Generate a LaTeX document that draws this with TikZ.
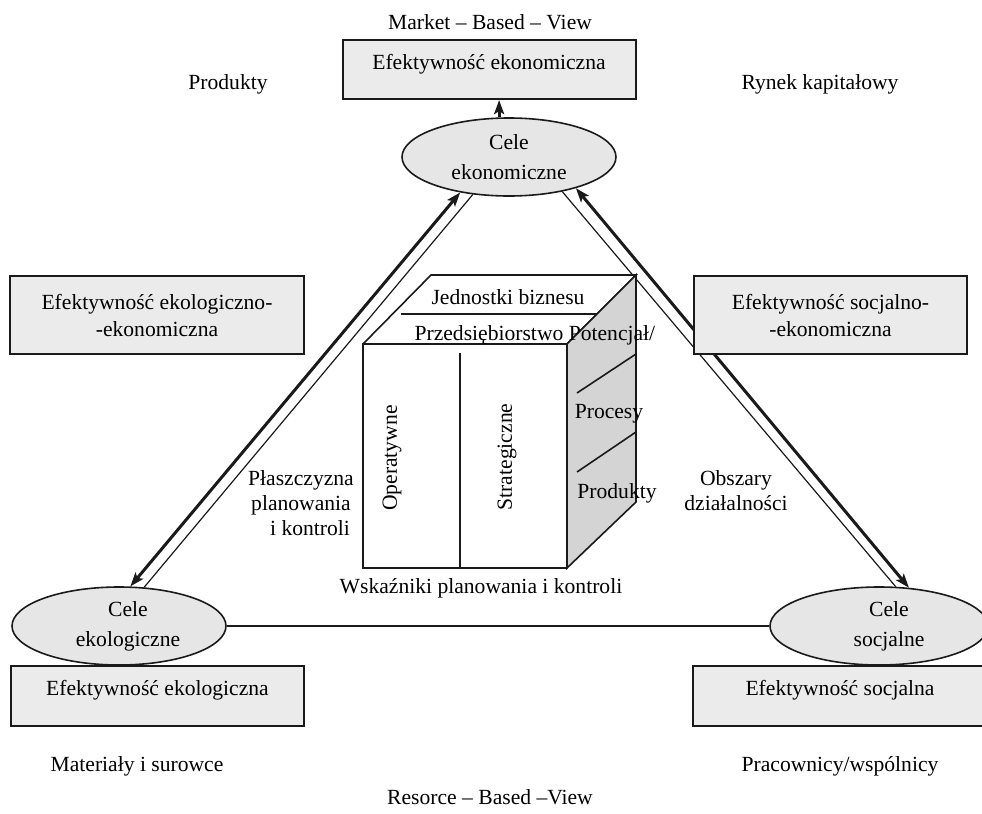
\documentclass[tikz,border=0pt]{standalone}
\usepackage{fontspec}
\setmainfont{Liberation Serif}
\usepackage{xcolor}
\definecolor{cLine}{HTML}{1A1A1A}
\definecolor{cBox}{HTML}{EBEBEB}
\definecolor{cGoal}{HTML}{E6E6E6}
\definecolor{cSide}{HTML}{D4D4D4}
\usetikzlibrary{arrows.meta,shapes.geometric}
\tikzset{
  node-box/.style={draw=cLine,line width=1pt,fill=cBox,inner sep=0pt,
    align=center},
  node-box-top/.style={node-box,text height=14.6pt,text depth=15pt},
  node-goal/.style={draw=cLine,line width=0.8pt,fill=cGoal,ellipse,
    inner sep=0pt,minimum width=107pt,minimum height=39pt,align=center},
  node-text/.style={inner sep=0pt,align=center},
  arrow-up/.style={-{Stealth[length=7pt,width=5pt,inset=1.5pt]},
    line width=1.5pt,draw=cLine},
  arrow-both/.style={{Stealth[length=7pt,width=5pt,inset=1.5pt]}-{Stealth[length=7pt,width=5pt,inset=1.5pt]},
    line width=1.5pt,draw=cLine},
  line-thin/.style={line width=0.6pt,draw=cLine},
  line-cube/.style={line width=0.8pt,draw=cLine},
}
\begin{document}
\begin{tikzpicture}[x=0.5pt,y=-0.5pt,font=\fontsize{10.8}{12.5}\selectfont]
  \useasboundingbox (0,0) rectangle (982,814);
  % cele
  \node[node-goal] (econ) at (509,157) {Cele\\[2.5pt]ekonomiczne};
  \node[node-goal] (ecol) at (119,626) {\hspace*{9pt}Cele\\[2.5pt]\hspace*{9pt}ekologiczne};
  \node[node-goal,minimum width=109pt] (csoc) at (879,626) {\hspace*{10pt}Cele\\[2.5pt]\hspace*{10pt}socjalne};
  % polaczenia
  \draw[arrow-both] (econ.216) -- (ecol.74);
  \draw[line-thin] (econ.226) -- (ecol.57);
  \draw[arrow-both] (econ.335) -- (csoc.52);
  \draw[line-thin] (econ.327) -- (csoc.67);
  \draw[line-thin,line width=0.8pt] (ecol.east) -- (csoc.west);
  % efektywnosc
  \node[node-box-top,minimum width=146.5pt] (effeco) at (489,69.5) {Efektywność ekonomiczna};
  \draw[arrow-up] (econ.104) -- (econ.104 |- effeco.south);
  \node[node-box,minimum width=147pt,minimum height=39pt] (effecolecon) at (157,315)
    {Efektywność ekologiczno-\\[1pt]-ekonomiczna};
  \node[node-box,minimum width=136.5pt,minimum height=39pt] (effsocecon) at (830.5,315)
    {Efektywność socjalno-\\[1pt]-ekonomiczna};
  \node[node-box-top,minimum width=146.5pt] (effecol) at (157.5,696) {Efektywność ekologiczna};
  \node[node-box-top,minimum width=147pt] (effsoc) at (840,696) {Efektywność socjalna};
  % kostka
  \draw[line-cube] (363,344) rectangle (567,568);
  \draw[line-cube] (363,344) -- (431,275) -- (636,275) -- (567,344);
  \draw[line-cube,fill=cSide] (567,344) -- (636,275) -- (636,502) -- (567,568) -- cycle;
  \draw[line-cube] (401,314) -- (597,314);
  \draw[line-cube] (460,353) -- (460,568);
  \draw[line-cube] (577,393) -- (636,354);
  \draw[line-cube] (577,472) -- (636,432);
  \node[node-text] (jedn) at (508,297) {Jednostki biznesu};
  \node[node-text] (przeds) at (489,335) {Przedsiębiorstwo};
  \node[node-text] (poten) at (612,335) {Potencjał/};
  \node[node-text] (proc) at (609,414) {Procesy};
  \node[node-text] (prodc) at (617,493) {Produkty};
  \node[node-text,rotate=90] (oper) at (392,458) {Operatywne};
  \node[node-text,rotate=90] (strat) at (507,457) {Strategiczne};
  \node[node-text] (wskaz) at (481,588) {Wskaźniki planowania i kontroli};
  % opisy
  \node[node-text] (market) at (490,22) {Market – Based – View};
  \node[node-text] (resorce) at (490,797) {Resorce – Based –View};
  \node[node-text] (prod) at (228,84) {Produkty};
  \node[node-text] (rynek) at (820,84) {Rynek kapitałowy};
  \node[node-text] (mater) at (137,766) {Materiały i surowce};
  \node[node-text] (prac) at (840,766) {Pracownicy/wspólnicy};
  \node[node-text] (plasz) at (301,503) {Płaszczyzna\\planowania\\\hspace*{9pt}i kontroli};
  \node[node-text] (obsz) at (736,491) {Obszary\\działalności};
\end{tikzpicture}
\end{document}
